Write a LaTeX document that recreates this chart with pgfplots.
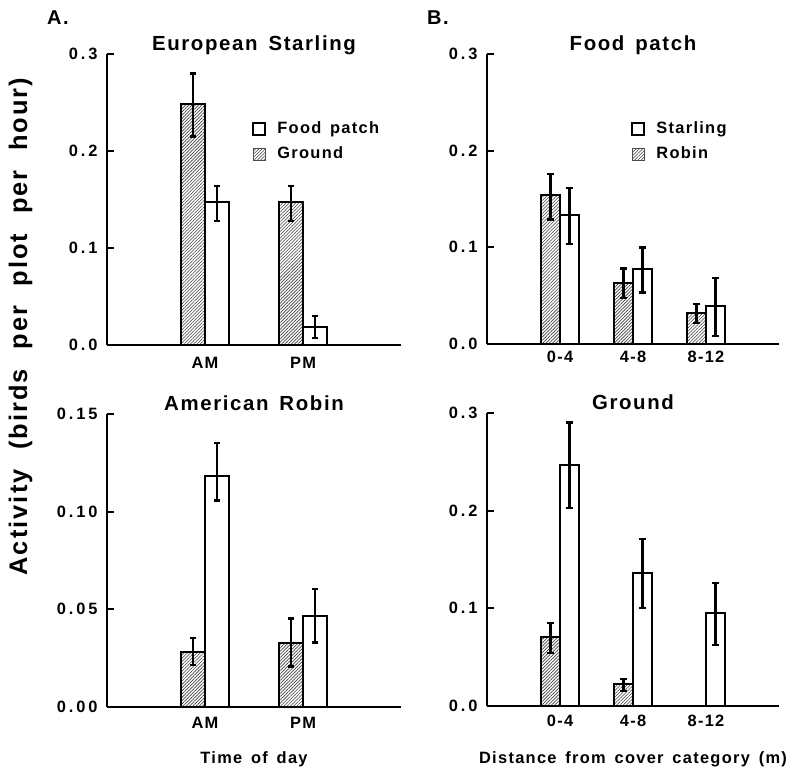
\documentclass[border=0pt]{standalone}
\usepackage{fontspec}
\setmainfont{Liberation Sans Bold}[LetterSpace=8,WordSpace=1.5]
\newfontfamily\tickfont{Liberation Sans Bold}[LetterSpace=18]
\usepackage{pgfplots}
\pgfplotsset{compat=1.18}
\usetikzlibrary{patterns.meta}
\newcommand{\fs}[1]{\fontsize{#1}{#1}\selectfont}
\pgfplotsset{
  panel/.style={
    scale only axis, axis lines=left, axis line style={-, line width=1pt},
    ymin=0, tick align=inside, major tick length=3.5pt,
    ytick style={line width=1pt, black}, xtick style={draw=none},
    ybar, clip=false, scaled y ticks=false,
    xtick={1,2,3},
    every axis title shift=0pt,
    yticklabel style={font=\tickfont\fs{8.2}, inner sep=0pt, xshift=-4.5pt,
      /pgf/number format/.cd, fixed, fixed zerofill, precision=1, assume math mode=true},
    xticklabel style={font=\fs{8.2}, inner sep=0pt},
    title style={font=\fs{10.2}, at={(0.5,1)}, anchor=base, yshift=1.8pt},
    xlabel style={font=\fs{8.2}, at={(axis description cs:0.5,0)}, anchor=base, yshift=-28.7pt},
    legend style={draw=none, fill=none, inner sep=0pt, font=\fs{8.2},
      anchor=north west, row sep=0pt, nodes={inner sep=2.5pt}},
    legend cell align=left,
    error bars/y dir=both, error bars/y explicit,
    error bars/error bar style={line width=1.15pt, black},
    error bars/error mark options={rotate=90, mark size=1.6pt, line width=1.1pt, black},
  },
  openbar/.style={draw=black, line width=1pt, fill=white},
  hatchbar/.style={draw=black, line width=1pt, fill=white,
    pattern={Lines[angle=45,distance=1.15pt,line width=0.3pt]}, pattern color=black!75},
  sqlegend/.style={legend image code/.code={\draw[##1] (0pt,-3pt) rectangle (6pt,3pt); \path (9pt,0pt);}},
}
\begin{document}
\begin{tikzpicture}
\useasboundingbox (0,0) rectangle (396.5pt,386pt);
% ---------- A top
\begin{axis}[panel, at={(53.5pt,213.5pt)}, anchor=south west,
  width=147pt, height=145.5pt, xmin=0, xmax=3, ymax=0.3,
  ytick={0,0.1,0.2,0.3}, xticklabels={AM,PM}, xtick={1,2},
  xticklabel style={yshift=-2.5pt},
  bar width=12pt, title={European Starling},
  legend style={at={(0.493,0.785)}}]
\addplot+[hatchbar, bar shift=-6pt, forget plot] table[x=x,y=y,y error plus=ep,y error minus=em] {
x y ep em
1 0.248 0.032 0.033
2 0.147 0.017 0.019
};
\addplot+[openbar, bar shift=6pt, forget plot] table[x=x,y=y,y error plus=ep,y error minus=em] {
x y ep em
1 0.147 0.017 0.019
2 0.019 0.011 0.012
};
\addlegendimage{sqlegend, draw=black, line width=1pt, fill=white}
\addlegendentry{Food patch}
\addlegendimage{sqlegend, draw=black!70, line width=0.4pt, pattern={Lines[angle=45,distance=1.15pt,line width=0.3pt]}, pattern color=black!75}
\addlegendentry{Ground}
\end{axis}
% ---------- A bottom
\begin{axis}[panel, at={(53.5pt,32.75pt)}, anchor=south west,
  width=147pt, height=146.25pt, xmin=0, xmax=3, ymax=0.15,
  ytick={0,0.05,0.1,0.15}, xticklabels={AM,PM}, xtick={1,2},
  xticklabel style={yshift=-1.75pt},
  yticklabel style={/pgf/number format/precision=2},
  bar width=12pt, title={American Robin}, xlabel={Time of day}]
\addplot+[hatchbar, bar shift=-6pt] table[x=x,y=y,y error plus=ep,y error minus=em] {
x y ep em
1 0.0282 0.0068 0.0068
2 0.0328 0.0123 0.0123
};
\addplot+[openbar, bar shift=6pt] table[x=x,y=y,y error plus=ep,y error minus=em] {
x y ep em
1 0.1182 0.0171 0.0126
2 0.0466 0.0136 0.0138
};
\end{axis}
% ---------- B top
\begin{axis}[panel, at={(243.5pt,214pt)}, anchor=south west,
  width=146pt, height=145pt, xmin=0, xmax=4, ymax=0.3,
  ytick={0,0.1,0.2,0.3}, xticklabels={0-4,4-8,8-12},
  xticklabel style={yshift=0pt},
  bar width=9.5pt, title={Food patch},
  legend style={at={(0.493,0.785)}}]
\addplot+[hatchbar, bar shift=-4.75pt, forget plot] table[x=x,y=y,y error plus=ep,y error minus=em] {
x y ep em
1 0.1538 0.022 0.025
2 0.0633 0.0148 0.0155
3 0.0317 0.0093 0.0097
};
\addplot+[openbar, bar shift=4.75pt, forget plot] table[x=x,y=y,y error plus=ep,y error minus=em] {
x y ep em
1 0.1331 0.028 0.030
2 0.0781 0.0217 0.0248
3 0.0392 0.0292 0.0309
};
\addlegendimage{sqlegend, draw=black, line width=1pt, fill=white}
\addlegendentry{Starling}
\addlegendimage{sqlegend, draw=black!70, line width=0.4pt, pattern={Lines[angle=45,distance=1.15pt,line width=0.3pt]}, pattern color=black!75}
\addlegendentry{Robin}
\end{axis}
% ---------- B bottom
\begin{axis}[panel, at={(243.5pt,33.15pt)}, anchor=south west,
  width=146pt, height=146.25pt, xmin=0, xmax=4, ymax=0.3,
  ytick={0,0.1,0.2,0.3}, xticklabels={0-4,4-8,8-12},
  xticklabel style={yshift=-1pt},
  bar width=9.5pt, title={Ground}, xlabel={Distance from cover category (m)}]
\addplot+[hatchbar, bar shift=-4.75pt] table[x=x,y=y,y error plus=ep,y error minus=em] {
x y ep em
1 0.0702 0.0144 0.0164
2 0.0220 0.0057 0.0066
};
\addplot+[openbar, bar shift=4.75pt] table[x=x,y=y,y error plus=ep,y error minus=em] {
x y ep em
1 0.247 0.0435 0.0444
2 0.1359 0.0349 0.0359
3 0.0948 0.0308 0.0325
};
\end{axis}
\node[anchor=base, rotate=90, font=\fs{12.7}] at (13.5pt,222.75pt) {Activity\hspace{3pt} (birds\hspace{3pt} per\hspace{3pt} plot\hspace{3pt} per\hspace{3pt} hour)};
\node[anchor=base west, font=\fs{10}] at (20pt,373.5pt) {A.};
\node[anchor=base west, font=\fs{10}] at (210pt,373.5pt) {B.};
\end{tikzpicture}
\end{document}
